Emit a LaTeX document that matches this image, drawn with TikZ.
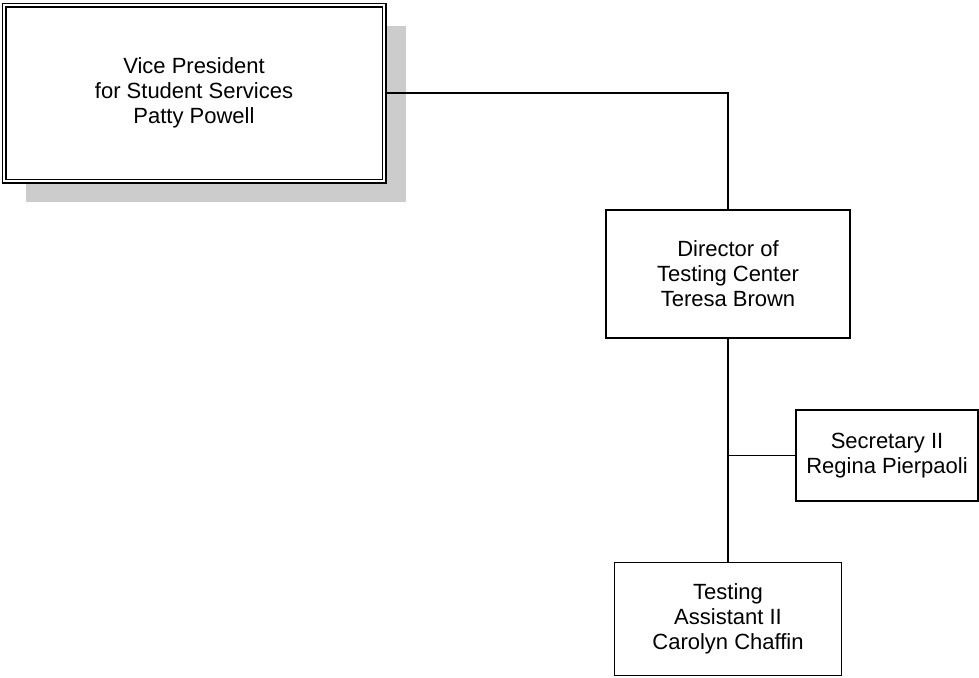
\documentclass[tikz,border=0pt]{standalone}
\usepackage{fontspec}
\setmainfont{Liberation Sans}
\usetikzlibrary{shapes, positioning, shadows}

\begin{document}
\begin{tikzpicture}[x=0.5pt, y=-0.5pt, node distance=2cm]
% Define styles
\tikzstyle{box} = [rectangle, draw, line width=0.8pt, align=center, font=\fontsize{11}{12.5}\selectfont, inner sep=0pt]
\tikzstyle{topbox} = [box, double, line width=0.6pt, double distance=1.3pt, fill=white, minimum width=190pt, minimum height=88pt, drop shadow={shadow xshift=11pt, shadow yshift=-10.5pt, fill=gray!40, opacity=1}]
\tikzstyle{line} = [line width=0.8pt]

\useasboundingbox (0,0) rectangle (979,677);

% Vice President
\node (vp) [topbox] at (194,93) {Vice President\\for Student Services\\Patty Powell};

% Director
\node (director) [box, minimum width=122pt, minimum height=64pt] at (728,274) {Director of\\Testing Center\\Teresa Brown};
\draw [line] (vp.east) -| (director.north);

% Assistant
\node (assistant) [box, minimum width=113.5pt, minimum height=56.5pt, below=111.5pt of director] {Testing\\Assistant II\\Carolyn Chaffin};
\draw [line] (director.south) -- (assistant.north);

% Secretary
\node (secretary) [box, minimum width=91pt, minimum height=45.5pt] at (887,455.5) {Secretary II\\Regina Pierpaoli};
\draw [line] (secretary.west) -- (secretary.west -| director.south);
\end{tikzpicture}
\end{document}
